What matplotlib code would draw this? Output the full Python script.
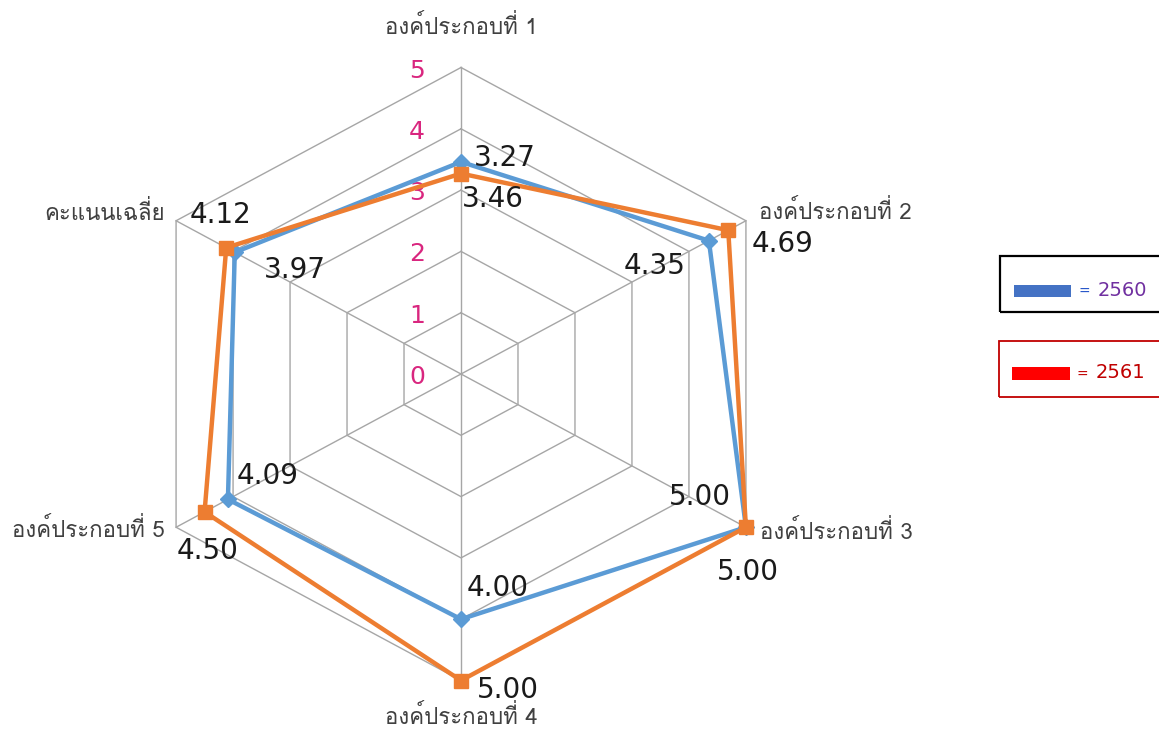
import numpy as np
import matplotlib
matplotlib.use("Agg")
import matplotlib.pyplot as plt
from matplotlib import font_manager
from matplotlib.ft2font import FT2Font
from matplotlib.patches import Rectangle

# data
categories = ['องค์ประกอบที่ 1', 'องค์ประกอบที่ 2', 'องค์ประกอบที่ 3',
              'องค์ประกอบที่ 4', 'องค์ประกอบที่ 5', 'คะแนนเฉลี่ย']
y2560 = [3.46, 4.35, 5.00, 4.00, 4.09, 3.97]
y2561 = [3.27, 4.69, 5.00, 5.00, 4.50, 4.12]
levels = [1, 2, 3, 4, 5]
tick_labels = ['0', '1', '2', '3', '4', '5']
legend_labels = ['2560', '2561']

# find a font with thai glyphs
thai_font = None
for f in font_manager.fontManager.ttflist:
    try:
        if FT2Font(f.fname).get_char_index(0x0E2D):
            thai_font = f.name
            break
    except Exception:
        pass
thai_family = [thai_font, 'DejaVu Sans'] if thai_font else ['DejaVu Sans']

W, H = 1159, 729
fig = plt.figure(figsize=(W / 100, H / 100), dpi=100)
ax = fig.add_axes([0, 0, 1, 1])
ax.set_axis_off()

cx, cy = 461, 374
sx, sy = 65.8, 61.3
ax.set_xlim(-cx / sx, (W - cx) / sx)
ax.set_ylim(-(H - cy) / sy, cy / sy)

n = len(categories)
theta = np.arange(n) * 2 * np.pi / n
sin, cos = np.sin(theta), np.cos(theta)

def xy(vals):
    v = np.asarray(vals, dtype=float)
    return v * sin, v * cos

grid_c = '#a6a6a6'
for lv in levels:
    gx, gy = xy([lv] * n)
    ax.plot(np.append(gx, gx[0]), np.append(gy, gy[0]), color=grid_c, lw=1, zorder=1)
for k in range(n):
    ax.plot([0, 5 * sin[k]], [0, 5 * cos[k]], color=grid_c, lw=1, zorder=1)

bx, by = xy(y2560)
ox, oy = xy(y2561)
ax.plot(np.append(bx, bx[0]), np.append(by, by[0]), color='#5b9bd5', lw=3.2, zorder=3)
ax.plot(bx, by, 'D', color='#5b9bd5', ms=8, zorder=4)
ax.plot(np.append(ox, ox[0]), np.append(oy, oy[0]), color='#ed7d31', lw=3.2, zorder=5)
ax.plot(ox, oy, 's', color='#ed7d31', ms=10.5, zorder=6)

# radial tick labels
for i, t in enumerate(tick_labels):
    ax.annotate(t, (0, i), xytext=(-44, -3), textcoords='offset pixels',
                ha='center', va='center', fontsize=18, color='#d9267f', zorder=2)

# data labels
off_b = [(32, -37), (-54, -25), (-46, 30), (37, 31), (40, 23), (60, -18)]
off_o = [(44, 16), (54, -14), (2, -45), (47, -10), (3, -39), (-6, 33)]
for k in range(n):
    ax.annotate('%.2f' % y2560[k], (bx[k], by[k]), xytext=off_b[k],
                textcoords='offset pixels', ha='center', va='center',
                fontsize=20, color='#1a1a1a', zorder=7)
    ax.annotate('%.2f' % y2561[k], (ox[k], oy[k]), xytext=off_o[k],
                textcoords='offset pixels', ha='center', va='center',
                fontsize=20, color='#1a1a1a', zorder=7)

# category labels (offsets from the outer vertex, pixels)
cat_pos = [(0, 40, 'center'), (13, 9, 'left'), (14, -5, 'left'),
           (0, -37, 'center'), (None, -3, 'right'), (None, 8, 'right')]
for k in range(n):
    dx, dy, ha = cat_pos[k]
    if dx is None:
        dx = 165 - (cx + 5 * sin[k] * sx)
    ax.annotate(categories[k], (5 * sin[k], 5 * cos[k]), xytext=(dx, dy),
                textcoords='offset pixels', ha=ha, va='center',
                fontsize=16, color='#404040', family=thai_family)

# legend boxes
def fr(x, y):
    return x / W, 1 - y / H

def box(x0, y0, x1, y1, ec, lw):
    a, b = fr(x0, y1)
    fig.patches.append(Rectangle((a, b), (x1 - x0) / W, (y1 - y0) / H,
                                 transform=fig.transFigure, fill=False,
                                 ec=ec, lw=lw))

def bar(x0, y0, x1, y1, c):
    a, b = fr(x0, y1)
    fig.patches.append(Rectangle((a, b), (x1 - x0) / W, (y1 - y0) / H,
                                 transform=fig.transFigure, color=c, lw=0))

box(1000, 256, 1162, 312, 'black', 1.6)
bar(1014, 285, 1071, 297, '#4472c4')
fig.text(*fr(1079, 292), '=', fontsize=10, color='#2050c8', va='center')
fig.text(*fr(1098, 290), legend_labels[0], fontsize=14, color='#7030a0', va='center')

box(999, 341, 1162, 397, '#c00000', 1.3)
bar(1012, 367, 1070, 380, '#ff0000')
fig.text(*fr(1077, 375), '=', fontsize=10, color='#c00000', va='center')
fig.text(*fr(1096, 373), legend_labels[1], fontsize=14, color='#c00000', va='center')

fig.savefig('out.png', dpi=100)
